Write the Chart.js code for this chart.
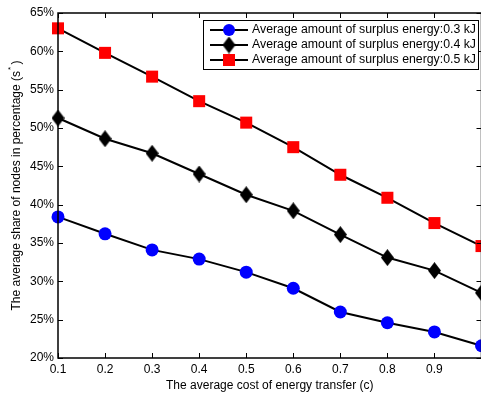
<!DOCTYPE html>
<html>
<head>
<meta charset="utf-8">
<script src="https://cdn.jsdelivr.net/npm/chart.js@4.4.0/dist/chart.umd.min.js"></script>
<style>
  html, body { margin: 0; padding: 0; background: #fff; overflow: hidden; }
  #wrap { width: 490px; height: 395px; position: relative; }
</style>
</head>
<body>
<div id="wrap"><canvas id="chart"></canvas></div>
<script>
// data
const costs = [0.1, 0.2, 0.3, 0.4, 0.5, 0.6, 0.7, 0.8, 0.9, 1.0];
const share03 = [38.4, 36.2, 34.1, 32.9, 31.2, 29.1, 26.0, 24.6, 23.4, 21.6];
const share04 = [51.3, 48.6, 46.7, 44.0, 41.3, 39.2, 36.1, 33.1, 31.4, 28.5];
const share05 = [63.0, 59.8, 56.7, 53.5, 50.7, 47.5, 43.9, 40.9, 37.6, 34.6];
const seriesNames = [
  "Average amount of surplus energy:0.3 kJ",
  "Average amount of surplus energy:0.4 kJ",
  "Average amount of surplus energy:0.5 kJ"
];
const yTickValues = [20, 25, 30, 35, 40, 45, 50, 55, 60, 65];
const xTickValues = [0.1, 0.2, 0.3, 0.4, 0.5, 0.6, 0.7, 0.8, 0.9];

const FONT = "Liberation Sans, Arial, sans-serif";

// diamond marker like matlab's 'd'
function makeDiamond() {
  let c = document.createElement("canvas");
  c.width = 13; c.height = 17;
  let g = c.getContext("2d");
  g.fillStyle = "#000";
  g.beginPath();
  g.moveTo(6.5, 0); g.lineTo(13, 8.5); g.lineTo(6.5, 17); g.lineTo(0, 8.5);
  g.closePath(); g.fill();
  return c;
}
const diamond = makeDiamond();

function toPoints(vals) {
  return costs.map((c, i) => ({ x: c, y: vals[i] }));
}

const markers = [
  { style: "circle", color: "#0000ff", radius: 6.5 },
  { style: diamond, color: "#000000", radius: 7 },
  { style: "rect", color: "#ff0000", radius: 8.5 }
];

const datasets = [share03, share04, share05].map((vals, i) => ({
  label: seriesNames[i],
  data: toPoints(vals),
  borderColor: "#000",
  borderWidth: 2,
  pointStyle: markers[i].style,
  pointRadius: markers[i].radius,
  pointBackgroundColor: markers[i].color,
  pointBorderColor: markers[i].color,
  pointBorderWidth: 0,
  tension: 0,
  clip: false
}));

// frame, inward ticks, legend box, y title with superscript
const decorations = {
  id: "decorations",
  afterDraw(chart) {
    const ctx = chart.ctx;
    const a = chart.chartArea;
    const xs = chart.scales.x, ys = chart.scales.y;
    ctx.save();

    ctx.strokeStyle = "#000";
    ctx.lineWidth = 1;
    ctx.beginPath();
    xTickValues.concat([1.0]).forEach(v => {
      let px = Math.round(xs.getPixelForValue(v)) + 0.5;
      ctx.moveTo(px, a.bottom); ctx.lineTo(px, a.bottom - 5);
      ctx.moveTo(px, a.top); ctx.lineTo(px, a.top + 5);
    });
    yTickValues.forEach(v => {
      let py = Math.round(ys.getPixelForValue(v)) + 0.5;
      ctx.moveTo(a.left, py); ctx.lineTo(a.left + 5, py);
      ctx.moveTo(a.right, py); ctx.lineTo(a.right - 5, py);
    });
    ctx.stroke();

    ctx.lineWidth = 1.5;
    ctx.strokeRect(a.left, a.top, a.right - a.left, a.bottom - a.top);

    // legend
    const lx = 203.5, ly = 20.5, lw = 275, lh = 49;
    ctx.fillStyle = "#fff";
    ctx.fillRect(lx, ly, lw, lh);
    ctx.lineWidth = 1;
    ctx.strokeRect(lx, ly, lw, lh);
    ctx.font = "12.3px " + FONT;
    ctx.textBaseline = "middle";
    chart.data.datasets.forEach((ds, i) => {
      let y = 30 + i * 15;
      ctx.strokeStyle = "#000";
      ctx.lineWidth = 2;
      ctx.beginPath();
      ctx.moveTo(210, y); ctx.lineTo(248, y);
      ctx.stroke();
      let m = markers[i];
      ctx.fillStyle = m.color;
      if (m.style === "circle") {
        ctx.beginPath();
        ctx.arc(229, y, 6, 0, Math.PI * 2);
        ctx.fill();
      } else if (m.style === "rect") {
        ctx.fillRect(223, y - 6, 12, 12);
      } else {
        ctx.drawImage(diamond, 229 - 6.5, y - 8.5);
      }
      ctx.fillStyle = "#000";
      ctx.fillText(ds.label, 252, y);
    });

    // y axis title
    ctx.translate(17, (a.top + a.bottom) / 2);
    ctx.rotate(-Math.PI / 2);
    ctx.fillStyle = "#000";
    ctx.textBaseline = "middle";
    const main = "The average share of nodes in percentage (s";
    ctx.font = "12px " + FONT;
    let w1 = ctx.measureText(main).width;
    let w3 = ctx.measureText(" )").width;
    ctx.font = "8px " + FONT;
    let w2 = ctx.measureText("*").width;
    let x0 = -(w1 + w2 + w3) / 2;
    ctx.font = "12px " + FONT;
    ctx.fillText(main, x0, 0);
    ctx.font = "8px " + FONT;
    ctx.fillText("*", x0 + w1 + 1, -6);
    ctx.font = "12px " + FONT;
    ctx.fillText(" )", x0 + w1 + w2, 0);

    ctx.restore();
  }
};

new Chart(document.getElementById("chart"), {
  type: "line",
  data: { datasets: datasets },
  options: {
    responsive: true,
    maintainAspectRatio: false,
    animation: false,
    devicePixelRatio: 1,
    layout: { padding: { top: 13, right: 6, left: 0, bottom: 0 } },
    plugins: {
      legend: { display: false },
      tooltip: { enabled: false }
    },
    scales: {
      x: {
        type: "linear",
        min: 0.1,
        max: 1.0,
        afterBuildTicks: s => { s.ticks = costs.map(v => ({ value: v })); },
        ticks: {
          autoSkip: false,
          maxRotation: 0,
          padding: 4,
          color: "#000",
          font: { size: 12, family: FONT },
          callback: v => (v < 0.95 ? v.toFixed(1) : "")
        },
        grid: { display: false, drawTicks: false },
        border: { display: false },
        title: {
          display: true,
          text: "The average cost of energy transfer (c)",
          color: "#000",
          font: { size: 12, family: FONT },
          padding: { top: 0, bottom: 2 }
        },
        afterFit: s => { s.height = 37; }
      },
      y: {
        min: 20,
        max: 65,
        afterBuildTicks: s => { s.ticks = yTickValues.map(v => ({ value: v })); },
        ticks: {
          padding: 4,
          color: "#000",
          font: { size: 12, family: FONT },
          callback: v => v + "%"
        },
        grid: { display: false, drawTicks: false },
        border: { display: false },
        afterFit: s => { s.width = 58; }
      }
    }
  },
  plugins: [decorations]
});
</script>
</body>
</html>
